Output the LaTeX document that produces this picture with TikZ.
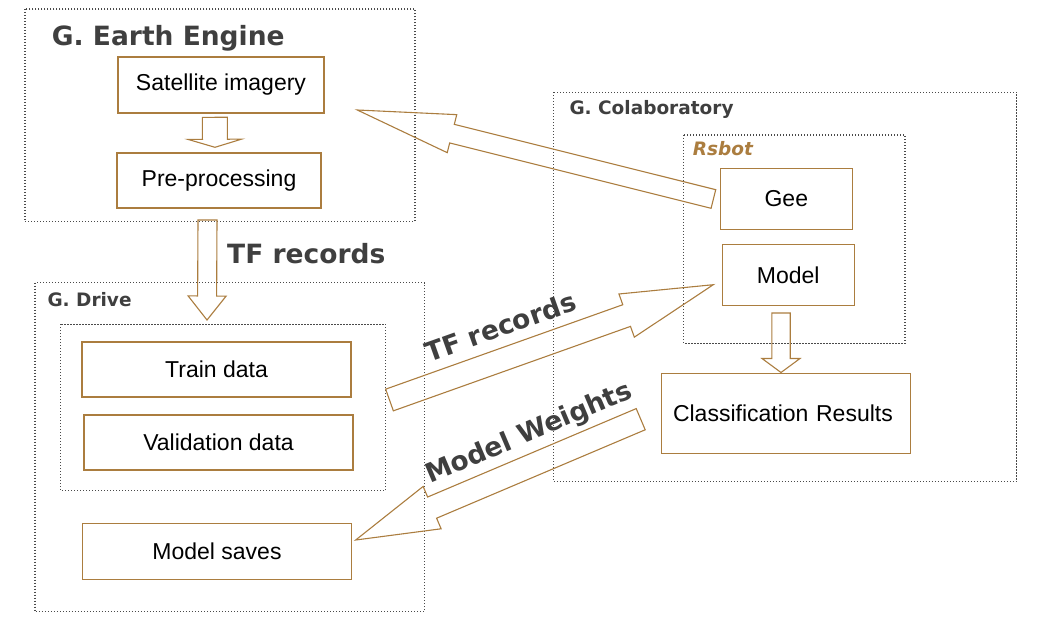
\documentclass[tikz,border=0pt]{standalone}
\usepackage{fontspec}
\setmainfont{Liberation Sans}
\newfontfamily\dvs{DejaVu Sans}
\usetikzlibrary{calc}
\definecolor{brn}{HTML}{AB7D3F}
\definecolor{lbl}{HTML}{3F3F3F}
\definecolor{dotc}{HTML}{4A4A4A}
% tail, tip, shaft half-width, head half-width, head length
\newcommand{\blockarr}[5]{%
  \path ($(#2)!#5!(#1)$) coordinate (hb);
  \draw[barrow] ($(#1)!#3!90:(#2)$) -- ($(hb)!#3!90:(#2)$) -- ($(hb)!#4!90:(#2)$)
    -- (#2) -- ($(hb)!#4!-90:(#2)$) -- ($(hb)!#3!-90:(#2)$) -- ($(#1)!#3!-90:(#2)$) -- cycle;}
\begin{document}
\begin{tikzpicture}[x=1pt,y=-1pt,
  box/.style={draw=brn,line width=1.1pt,inner sep=0pt,font=\fontsize{23}{27}\selectfont,text=black},
  container/.style={draw=dotc,line width=1.1pt,dash pattern=on 1.1pt off 1.9pt},
  bigtitle/.style={font=\dvs\bfseries\fontsize{26.5}{30}\selectfont,text=lbl,inner sep=0pt},
  smalltitle/.style={font=\dvs\bfseries\fontsize{18.5}{22}\selectfont,text=lbl,inner sep=0pt},
  barrow/.style={draw=brn,line width=1.1pt,line join=miter}]
\useasboundingbox (0,0) rectangle (1040,620);

% containers
\draw[container] (25,9) rectangle (415,221.7);
\draw[container] (35,282.7) rectangle (424.3,611.7);
\draw[container] (60.7,324.3) rectangle (385.7,490.7);
\draw[container] (553.3,92.3) rectangle (1016.7,481.7);
\draw[container] (683.7,135) rectangle (905,343.3);

% titles
\node[bigtitle,anchor=base west] (tgee) at (51.7,45.7) {G. Earth Engine};
\node[bigtitle,anchor=base west] (ttf) at (227,263.3) {TF records};
\node[smalltitle,anchor=base west] (tdrive) at (47.3,306.7) {G. Drive};
\node[smalltitle,anchor=base west] (tcolab) at (569.3,115) {G. Colaboratory};
\node[smalltitle,anchor=base west,text=brn,font=\dvs\bfseries\itshape\fontsize{18.5}{22}\selectfont] (trsbot) at (692.7,156) {Rsbot};

% boxes
\node[box,minimum width=206pt,minimum height=56pt] (sat) at (221,85) {Satellite imagery};
\node[box,minimum width=204pt,minimum height=55pt] (pre) at (219,180.5) {Pre-processing};
\node[box,minimum width=269pt,minimum height=55pt] (train) at (216.5,369.5) {Train data};
\node[box,minimum width=269pt,minimum height=55pt] (val) at (218.5,442.5) {Validation data};
\node[box,minimum width=269.4pt,minimum height=55.7pt] (saves) at (217,551.2) {Model saves};
\node[box,minimum width=132pt,minimum height=61pt] (gee) at (786.3,198.8) {Gee};
\node[box,minimum width=131.7pt,minimum height=61pt] (model) at (788.2,274.8) {Model};
\node[box,minimum width=249.4pt,minimum height=80pt,text width=226pt,inner xsep=11.7pt,align=left] (cls) at (786,413.3) {Classification Results};

% arrow end coordinates
\coordinate (a1t) at (214.8,117.3); \coordinate (a1h) at (215,147.3);
\coordinate (a2t) at (207.5,220);   \coordinate (a2h) at (207,320);
\coordinate (a3t) at (713.4,199);   \coordinate (a3h) at (357.3,110);
\coordinate (a4t) at (389.5,400);   \coordinate (a4h) at (713.3,284.7);
\coordinate (a5t) at (640.7,419.2); \coordinate (a5h) at (355.7,540);
\coordinate (a6t) at (781,313);     \coordinate (a6h) at (781,372.5);

\blockarr{a1t}{a1h}{12.5pt}{26.7pt}{8pt}
\blockarr{a2t}{a2h}{9.5pt}{19pt}{24pt}
\blockarr{a3t}{a3h}{9.6pt}{19.6pt}{97.6pt}
\blockarr{a4t}{a4h}{11.5pt}{22.9pt}{92pt}
\blockarr{a5t}{a5h}{11.5pt}{23pt}{83pt}
\blockarr{a6t}{a6h}{9.2pt}{19pt}{14pt}

% rotated labels
\node[bigtitle,anchor=base west,rotate=19.6] (ltf) at (429,362.5) {TF records};
\node[bigtitle,anchor=base west,rotate=23] (lmw) at (430,484) {Model Weights};
\end{tikzpicture}
\end{document}
